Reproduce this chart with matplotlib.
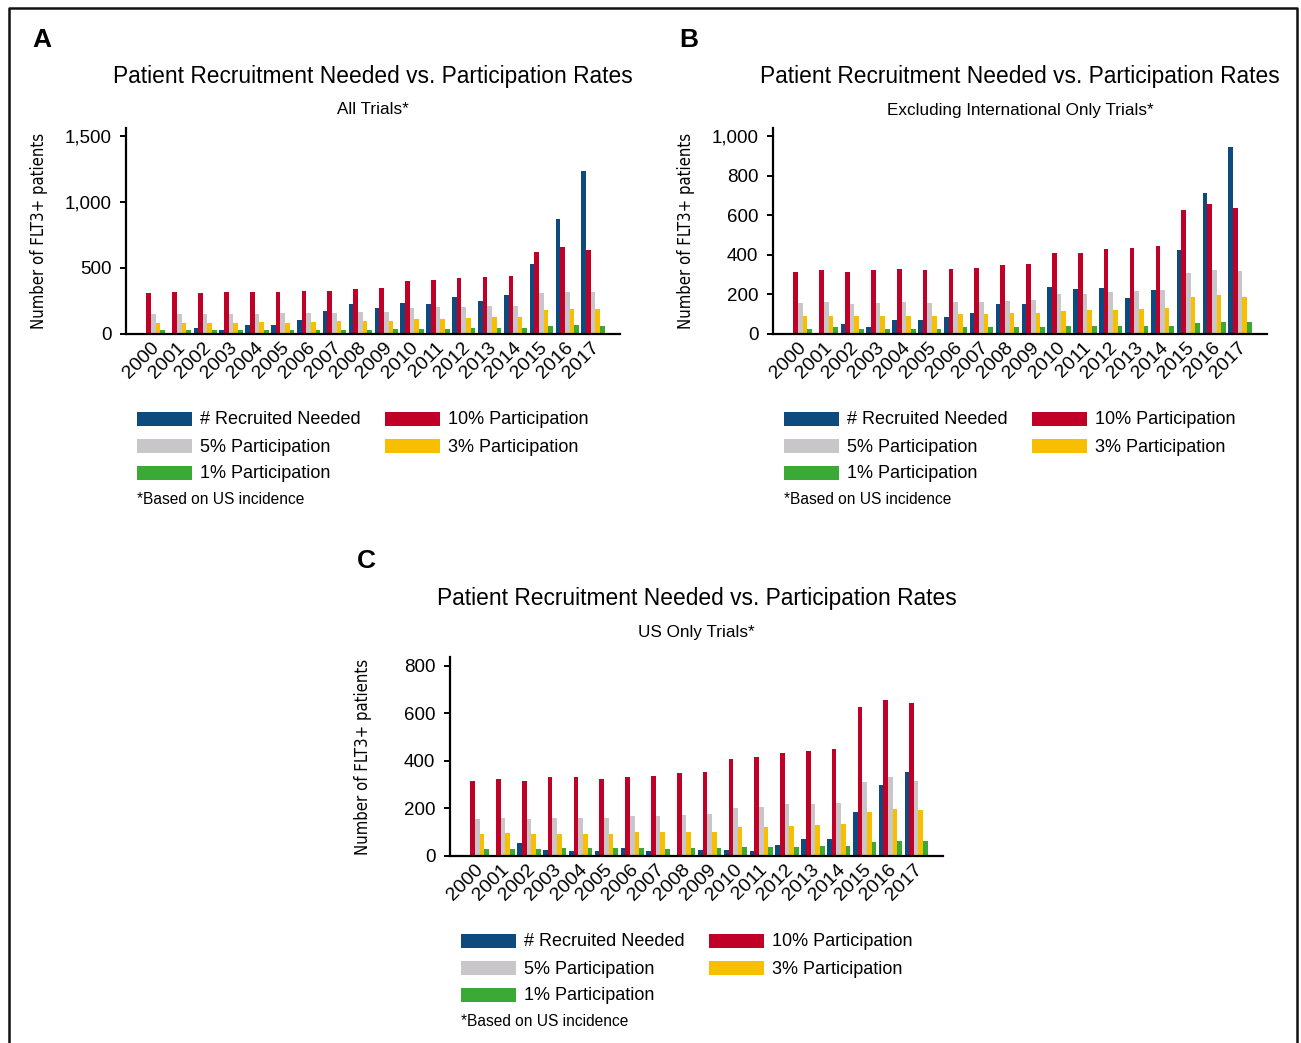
import numpy as np
import matplotlib.pyplot as plt
from matplotlib.patches import Rectangle
from matplotlib.lines import Line2D

plt.rcParams['font.family'] = ['Liberation Sans', 'DejaVu Sans']

# années
years = [str(y) for y in range(2000, 2018)]

# A - All Trials
a_recruited = [0, 0, 45, 30, 68, 68, 106, 174, 227, 197, 235, 227, 280, 250, 295, 530, 871, 1235]
a_p10 = [311, 318, 311, 318, 318, 318, 326, 326, 341, 348, 401, 409, 424, 432, 439, 621, 659, 636]
a_p5 = [152, 152, 152, 152, 152, 159, 159, 159, 167, 167, 197, 205, 205, 212, 212, 311, 318, 318]
a_p3 = [83, 83, 83, 83, 91, 83, 91, 98, 98, 98, 114, 114, 121, 129, 129, 182, 189, 189]
a_p1 = [31, 32, 31, 32, 32, 32, 33, 33, 34, 35, 40, 41, 42, 43, 44, 62, 66, 64]

# B - Excluding International Only Trials
b_recruited = [0, 0, 50, 35, 71, 71, 86, 106, 151, 151, 237, 227, 232, 181, 222, 423, 711, 942]
b_p10 = [313, 323, 313, 323, 328, 323, 328, 333, 348, 353, 408, 408, 428, 433, 444, 625, 655, 635]
b_p5 = [156, 161, 151, 156, 161, 156, 161, 161, 166, 171, 202, 202, 212, 217, 222, 307, 323, 318]
b_p3 = [91, 91, 91, 91, 91, 91, 101, 101, 106, 106, 116, 121, 121, 126, 131, 186, 197, 186]
b_p1 = [25, 35, 25, 25, 25, 25, 35, 35, 35, 35, 40, 40, 40, 40, 40, 55, 60, 60]

# C - US Only Trials
c_recruited = [0, 0, 53, 24, 20, 20, 32, 20, 0, 24, 24, 20, 45, 70, 70, 183, 297, 351]
c_p10 = [317, 322, 313, 330, 330, 322, 330, 338, 347, 351, 406, 418, 431, 443, 448, 624, 657, 641]
c_p5 = [154, 158, 154, 158, 158, 158, 166, 166, 171, 175, 200, 204, 217, 217, 221, 309, 330, 317]
c_p3 = [91, 95, 91, 91, 91, 91, 99, 99, 99, 99, 120, 120, 124, 129, 133, 183, 196, 192]
c_p1 = [28, 28, 28, 32, 32, 32, 32, 28, 32, 32, 36, 36, 36, 41, 41, 57, 62, 62]

series_labels = ['# Recruited Needed', '10% Participation', '5% Participation',
                 '3% Participation', '1% Participation']
colors = ['#0f4a7e', '#c00026', '#c8c6c8', '#f7bf00', '#3ba935']

W, H = 1301, 1043
fig = plt.figure(figsize=(W / 100, H / 100), dpi=100)


def fx(px):
    return px / W


def fy(py):
    return 1 - py / H


def panel(letter, subtitle, data, left, top, right, bottom, ymax, yticks,
          title_y, sub_y, letter_y):
    ax = fig.add_axes([fx(left), fy(bottom), fx(right - left), (bottom - top) / H])
    x = np.arange(len(years))
    w = 0.18
    for i, vals in enumerate(data):
        ax.bar(x + (i - 2) * w, vals, w, color=colors[i], linewidth=0)
    ax.set_xlim(-1.06, len(years) - 1 + 1.04)
    ax.set_ylim(0, ymax)
    ax.set_yticks(yticks)
    ax.set_yticklabels([f'{t:,}' for t in yticks], fontsize=13.5)
    # étiquettes décalées un peu à droite (pas de graduations visibles)
    ax.set_xticks(x + 0.14)
    ax.set_xticklabels(years, rotation=45, ha='right', va='center',
                       rotation_mode='anchor', fontsize=14)
    for s in ['top', 'right']:
        ax.spines[s].set_visible(False)
    for s in ['left', 'bottom']:
        ax.spines[s].set_linewidth(1.6)
    ax.tick_params(axis='y', length=4.5, width=1.4, pad=6)
    ax.tick_params(axis='x', length=0, pad=8)

    cx = (left + right) / 2
    fig.text(fx(cx), fy(title_y), 'Patient Recruitment Needed vs. Participation Rates',
             ha='center', va='center', fontsize=16.4)
    fig.text(fx(cx), fy(sub_y), subtitle, ha='center', va='center', fontsize=12.3)
    fig.text(fx(left - 84), fy(letter_y), letter, ha='center', va='center',
             fontsize=19, fontweight='bold')
    fig.text(fx(left - 87), fy((top + bottom) / 2), 'Number of FLT3+ patients',
             rotation=90, ha='center', va='center', fontsize=12,
             family='DejaVu Sans', fontstretch='condensed')

    # légende
    cols = [left + 11, left + 259]
    rows = [bottom + 85, bottom + 112, bottom + 139]
    pos = [(0, 0), (1, 0), (0, 1), (1, 1), (0, 2)]
    for i, (c, r) in enumerate(pos):
        px, py = cols[c], rows[r]
        fig.add_artist(Rectangle((fx(px), fy(py + 7)), fx(55), 14 / H,
                                 transform=fig.transFigure, color=colors[i], lw=0))
        fig.text(fx(px + 63), fy(py + 1), series_labels[i], ha='left', va='center',
                 fontsize=13)
    fig.text(fx(left + 11), fy(bottom + 165), '*Based on US incidence',
             ha='left', va='center', fontsize=11.2)
    return ax


panel('A', 'All Trials*', [a_recruited, a_p10, a_p5, a_p3, a_p1],
      126, 128, 620, 334, 1560, [0, 500, 1000, 1500], 77, 110, 40)
panel('B', 'Excluding International Only Trials*', [b_recruited, b_p10, b_p5, b_p3, b_p1],
      773, 128, 1267, 334, 1040, [0, 200, 400, 600, 800, 1000], 77, 110, 40)
panel('C', 'US Only Trials*', [c_recruited, c_p10, c_p5, c_p3, c_p1],
      450, 657, 943, 856, 836, [0, 200, 400, 600, 800], 598, 632, 561)

# cadre
fig.add_artist(Line2D([fx(9), fx(9), fx(1297), fx(1297)],
                      [fy(H + 10), fy(8), fy(8), fy(H + 10)],
                      transform=fig.transFigure, color='#111111', lw=1.8))

fig.savefig('out.png', dpi=100)
